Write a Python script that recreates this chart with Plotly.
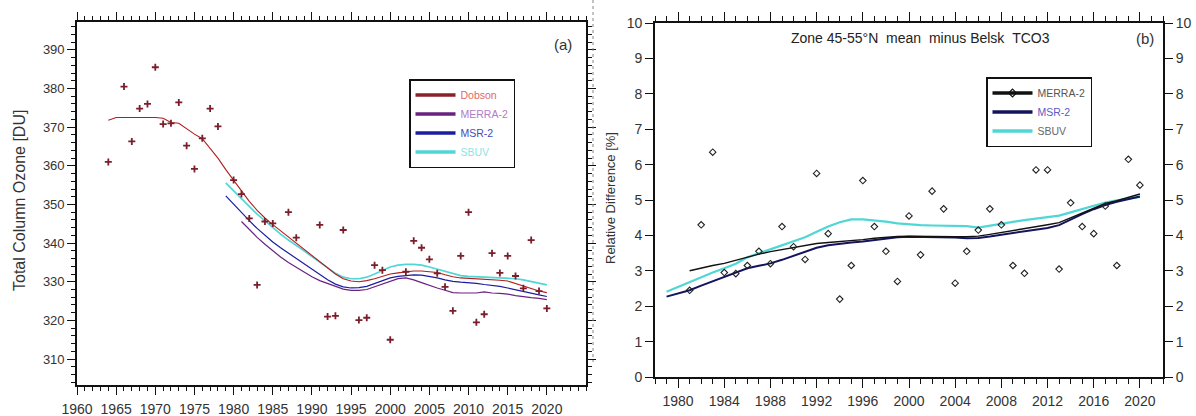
import plotly.graph_objects as go

# ---------------- Panel (a): Total column ozone ----------------
dob_pt_years = [1964, 1966, 1967, 1968, 1969, 1970, 1971, 1972, 1973, 1974, 1975, 1976, 1977, 1978,
                1980, 1981, 1982, 1983, 1984, 1985, 1987, 1988, 1991, 1992, 1993, 1994, 1996, 1997,
                1998, 1999, 2000, 2002, 2003, 2004, 2005, 2006, 2007, 2008, 2009, 2010, 2011, 2012,
                2013, 2014, 2015, 2016, 2017, 2018, 2019, 2020]
dob_pt_vals = [361.0, 380.5, 366.3, 374.8, 376.0, 385.5, 370.8, 371.0, 376.4, 365.2, 359.2, 367.1, 374.8, 370.2,
               356.3, 352.7, 346.4, 329.2, 345.6, 345.1, 348.0, 341.4, 344.7, 321.0, 321.2, 343.4, 320.1, 320.7,
               334.3, 333.0, 315.0, 332.6, 340.6, 338.8, 335.8, 332.2, 328.7, 322.5, 336.7, 348.0, 319.5, 321.6,
               337.4, 332.3, 336.7, 331.5, 328.3, 340.8, 327.6, 323.1]

dob_line_years = list(range(1964, 2021))
dob_line_vals = [371.8, 372.5, 372.5, 372.5, 372.5, 372.5, 372.5, 372.3, 371.2, 371.0,
                 369.5, 368.2, 367.0, 364.5, 362.0, 359.0, 356.3, 353.5, 350.8, 348.5,
                 346.5, 344.8, 343.2, 341.5, 340.0, 338.3, 336.6, 335.0, 333.5, 332.0,
                 330.8, 330.2, 330.0, 330.3, 330.8, 331.5, 332.0, 332.3, 332.6, 332.8,
                 332.8, 332.6, 332.4, 331.8, 331.3, 331.0, 330.9, 330.8, 330.7, 330.6,
                 330.4, 330.2, 329.5, 328.9, 328.3, 327.6, 327.2]

merra_years = list(range(1981, 2021))
merra_vals = [345.6, 343.5, 341.5, 339.7, 338.0, 336.4, 335.0, 333.7, 332.5, 331.3,
              330.3, 329.5, 328.7, 328.1, 327.8, 327.8, 328.0, 328.7, 329.5, 330.2,
              330.8, 331.0, 330.5, 329.8, 329.0, 328.4, 327.8, 327.2, 327.1, 327.1,
              327.1, 327.4, 327.1, 327.0, 326.8, 326.4, 326.1, 325.9, 325.7, 325.4]

msr_years = list(range(1979, 2021))
msr_vals = [352.2, 350.0, 347.8, 345.8, 343.8, 342.0, 340.3, 338.8, 337.4, 336.0,
            334.6, 333.2, 331.8, 330.5, 329.4, 328.7, 328.4, 328.5, 328.8, 329.5,
            330.3, 331.0, 331.4, 331.6, 331.8, 331.7, 331.4, 331.0, 330.5, 330.1,
            329.9, 329.8, 329.6, 329.3, 329.1, 328.8, 328.4, 327.9, 327.4, 327.0,
            326.6, 326.2]

sbuv_years = list(range(1979, 2021))
sbuv_vals = [355.6, 353.5, 351.5, 349.5, 347.5, 345.7, 344.0, 342.3, 340.8, 339.5,
             338.0, 336.5, 335.0, 333.5, 332.2, 331.2, 330.8, 330.8, 331.2, 332.0,
             333.0, 333.8, 334.3, 334.5, 334.5, 334.3, 333.8, 333.2, 332.6, 332.0,
             331.6, 331.4, 331.3, 331.2, 331.1, 331.0, 331.0, 330.8, 330.5, 330.1,
             329.6, 329.2]

a_xticks = [1960, 1965, 1970, 1975, 1980, 1985, 1990, 1995, 2000, 2005, 2010, 2015, 2020]

# ---------------- Panel (b): relative difference ----------------
rd_pt_years = list(range(1981, 2021))
rd_pt_vals = [2.45, 4.30, 6.35, 2.95, 2.92, 3.15, 3.55, 3.20, 4.25, 3.68,
              3.32, 5.75, 4.05, 2.20, 3.15, 5.55, 4.25, 3.55, 2.70, 4.55,
              3.45, 5.25, 4.75, 2.65, 3.55, 4.15, 4.75, 4.30, 3.15, 2.93,
              5.85, 5.85, 3.05, 4.92, 4.25, 4.05, 4.83, 3.15, 6.15, 5.42]

rd_merra_years = list(range(1981, 2021))
rd_merra_vals = [3.00, 3.08, 3.15, 3.21, 3.30, 3.40, 3.47, 3.54, 3.60, 3.67,
                 3.72, 3.77, 3.80, 3.82, 3.85, 3.88, 3.92, 3.95, 3.97, 3.98,
                 3.97, 3.96, 3.96, 3.96, 3.96, 3.98, 4.03, 4.08, 4.13, 4.19,
                 4.25, 4.30, 4.36, 4.50, 4.64, 4.77, 4.90, 4.98, 5.07, 5.17]

rd_msr_years = list(range(1979, 2021))
rd_msr_vals = [2.27, 2.36, 2.45, 2.58, 2.70, 2.83, 2.95, 3.07, 3.14, 3.21,
               3.31, 3.42, 3.54, 3.65, 3.72, 3.77, 3.80, 3.83, 3.87, 3.91,
               3.95, 3.96, 3.96, 3.96, 3.95, 3.94, 3.92, 3.93, 3.97, 4.02,
               4.07, 4.11, 4.15, 4.21, 4.29, 4.45, 4.60, 4.74, 4.86, 4.95,
               5.03, 5.10]

rd_sbuv_years = list(range(1979, 2021))
rd_sbuv_vals = [2.41, 2.55, 2.68, 2.82, 2.95, 3.07, 3.20, 3.38, 3.49, 3.60,
                3.72, 3.82, 3.95, 4.10, 4.25, 4.37, 4.45, 4.45, 4.43, 4.39,
                4.34, 4.31, 4.29, 4.28, 4.27, 4.27, 4.26, 4.22, 4.28, 4.34,
                4.38, 4.43, 4.48, 4.52, 4.56, 4.65, 4.74, 4.84, 4.93, 4.99,
                5.05, 5.09]

W, H = 1196, 416
FONT = "Liberation Sans, Arial, sans-serif"
TXT = "#333333"
C_DOB = "#b01e1e"
C_MERRA = "#6a2280"
C_MSR = "#1c1ca0"
C_SBUV = "#4fd6d6"
C_NAVY = "#14145e"

fig = go.Figure()

# panel (a) traces
fig.add_trace(go.Scatter(x=sbuv_years, y=sbuv_vals, mode="lines", line=dict(color=C_SBUV, width=1.6),
                         xaxis="x", yaxis="y", showlegend=False))
fig.add_trace(go.Scatter(x=msr_years, y=msr_vals, mode="lines", line=dict(color=C_MSR, width=1.2),
                         xaxis="x", yaxis="y", showlegend=False))
fig.add_trace(go.Scatter(x=merra_years, y=merra_vals, mode="lines", line=dict(color=C_MERRA, width=1.2),
                         xaxis="x", yaxis="y", showlegend=False))
fig.add_trace(go.Scatter(x=dob_line_years, y=dob_line_vals, mode="lines", line=dict(color=C_DOB, width=1.1),
                         xaxis="x", yaxis="y", showlegend=False))
fig.add_trace(go.Scatter(x=dob_pt_years, y=dob_pt_vals, mode="markers",
                         marker=dict(symbol="cross-thin", size=5, line=dict(color="#7a1f2a", width=1.8)),
                         xaxis="x", yaxis="y", showlegend=False))

# legend-only entries panel (a)
leg_a = [("Dobson", "#8a2028", "#e06868"), ("MERRA-2", C_MERRA, "#b27ac8"),
         ("MSR-2", C_MSR, "#4848b8"), ("SBUV", C_SBUV, "#8ae4e4")]
for name, lc, tc in leg_a:
    fig.add_trace(go.Scatter(x=[None], y=[None], mode="lines", line=dict(color=lc, width=3.5),
                             name=f"<span style='color:{tc}'>{name}</span>",
                             xaxis="x", yaxis="y", legend="legend"))

# panel (b) traces
fig.add_trace(go.Scatter(x=rd_sbuv_years, y=rd_sbuv_vals, mode="lines", line=dict(color=C_SBUV, width=2.2),
                         xaxis="x2", yaxis="y2", showlegend=False))
fig.add_trace(go.Scatter(x=rd_msr_years, y=rd_msr_vals, mode="lines", line=dict(color=C_NAVY, width=2.0),
                         xaxis="x2", yaxis="y2", showlegend=False))
fig.add_trace(go.Scatter(x=rd_merra_years, y=rd_merra_vals, mode="lines", line=dict(color="#111111", width=1.4),
                         xaxis="x2", yaxis="y2", showlegend=False))
fig.add_trace(go.Scatter(x=rd_pt_years, y=rd_pt_vals, mode="markers",
                         marker=dict(symbol="diamond-open", size=5, color="#222222", line=dict(width=1.1)),
                         xaxis="x2", yaxis="y2", showlegend=False))
# right-side labels axis helper
fig.add_trace(go.Scatter(x=[None], y=[None], xaxis="x2", yaxis="y3", showlegend=False, hoverinfo="skip"))

leg_b = [("MERRA-2", "#111111", "#555555", True), ("MSR-2", C_NAVY, "#5a5ac8", False),
         ("SBUV", C_SBUV, "#666666", False)]
for name, lc, tc, mk in leg_b:
    fig.add_trace(go.Scatter(x=[None], y=[None], mode="lines+markers" if mk else "lines",
                             line=dict(color=lc, width=3.5),
                             marker=dict(symbol="diamond-open", size=6, color="#111111",
                                         line=dict(width=1.2)),
                             name=f"<span style='color:{tc}'>{name}</span>",
                             xaxis="x2", yaxis="y2", legend="legend2"))

tickfont = dict(family=FONT, size=14, color=TXT)
axcommon = dict(showline=True, linecolor="#111111", linewidth=1.6, showgrid=False, zeroline=False,
                ticks="outside", tickcolor="#111111", tickwidth=1.4, tickfont=tickfont, automargin=False)

fig.update_layout(
    width=W, height=H, margin=dict(l=0, r=0, t=0, b=0, autoexpand=False),
    paper_bgcolor="white", plot_bgcolor="white",
    font=dict(family=FONT, color=TXT),
    xaxis=dict(domain=[77 / W, 586 / W], range=[1960, 2025], tickvals=a_xticks, ticklen=8,
               mirror="ticks", anchor="y", ticklabelstandoff=2,
               minor=dict(dtick=1, tick0=1960, ticks="outside", ticklen=4, tickcolor="#111111", showgrid=False),
               **axcommon),
    yaxis=dict(domain=[1 - 385 / H, 1 - 22 / H], range=[303.3, 397.2], tick0=310, dtick=10, ticklen=8,
               mirror="ticks", anchor="x",
               minor=dict(dtick=2, ticks="outside", ticklen=4, tickcolor="#111111", showgrid=False),
               **{**axcommon, "tickfont": dict(family=FONT, size=13, color=TXT)}),
    xaxis2=dict(domain=[655 / W, 1163 / W], range=[1978, 2022], tick0=1980, dtick=4, ticklen=9,
                mirror="ticks", anchor="y2", ticklabelstandoff=1,
                minor=dict(dtick=1, tick0=1978, ticks="outside", ticklen=5, tickcolor="#111111", showgrid=False),
                **axcommon),
    yaxis2=dict(domain=[1 - 377 / H, 1 - 23 / H], range=[0, 10], dtick=1, ticklen=8, mirror=True,
                anchor="x2", **axcommon),
    yaxis3=dict(overlaying="y2", side="right", anchor="x2", range=[0, 10], dtick=1, ticklen=9,
                showline=False, showgrid=False, zeroline=False, ticks="outside", tickcolor="#111111",
                tickwidth=1.4, tickfont=tickfont, automargin=False),
    legend=dict(x=409 / W, y=1 - 79 / H, xanchor="left", yanchor="top", bgcolor="white",
                bordercolor="#111111", borderwidth=1.5, font=dict(family=FONT, size=10.5),
                itemwidth=40, tracegroupgap=0),
    legend2=dict(x=986 / W, y=1 - 77 / H, xanchor="left", yanchor="top", bgcolor="white",
                 bordercolor="#111111", borderwidth=1.5, font=dict(family=FONT, size=10.5),
                 itemwidth=40, tracegroupgap=0),
    annotations=[
        dict(text="(a)", x=563, y=45, font=dict(family=FONT, size=15, color=TXT)),
        dict(text="(b)", x=1145, y=38, font=dict(family=FONT, size=15, color=TXT)),
        dict(text="Zone 45-55°N&nbsp;&nbsp;mean&nbsp;&nbsp;minus Belsk&nbsp;&nbsp;TCO3", x=920, y=38,
             font=dict(family=FONT, size=14, color="#222222")),
        dict(text="Total Column Ozone [DU]", x=20, y=201, textangle=-90,
             font=dict(family=FONT, size=16, color=TXT)),
        dict(text="Relative Difference [%]", x=610, y=198, textangle=-90,
             font=dict(family=FONT, size=13, color=TXT)),
    ],
    shapes=[dict(type="line", xref="paper", yref="paper", x0=593 / W, x1=593 / W, y0=1.0,
                 y1=1 - 362 / H, line=dict(color="#888888", width=1, dash="dot"))],
)

# convert pixel-based annotation positions to paper fractions
for a in fig.layout.annotations:
    a.x = a.x / W
    a.y = 1 - a.y / H
    a.xref = "paper"
    a.yref = "paper"
    a.xanchor = "center"
    a.yanchor = "middle"
    a.showarrow = False

fig.write_html("out.html")
